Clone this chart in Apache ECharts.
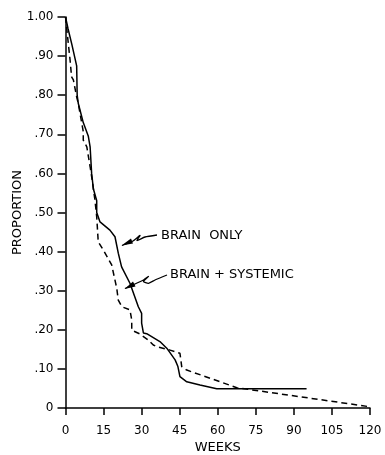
<!DOCTYPE html>
<html>
<head>
<meta charset="utf-8">
<script src="https://cdn.jsdelivr.net/npm/echarts@6/dist/echarts.min.js"></script>
<style>
html,body{margin:0;padding:0;background:#fff;}
#c{width:385px;height:455px;}
</style>
</head>
<body>
<div id="c"></div>
<script>
// Data (weeks, proportion)
const brainOnlyWeeks = [0, 1, 2.5, 4.4, 4.6, 5, 7, 9, 9.7, 10.3, 11, 12.3, 12.3, 13.6, 17.5, 19.5, 20.8, 22.1, 25.4, 28.7, 30, 30, 30.7, 32, 37.2, 39.9, 43.2, 44.3, 45.1, 47.8, 53, 59.6, 95];
const brainOnlyProp  = [1.0, 0.97, 0.93, 0.875, 0.80, 0.78, 0.73, 0.695, 0.668, 0.60, 0.56, 0.53, 0.50, 0.476, 0.455, 0.438, 0.396, 0.361, 0.319, 0.259, 0.242, 0.217, 0.192, 0.19, 0.17, 0.153, 0.123, 0.106, 0.08, 0.067, 0.059, 0.049, 0.049];

const brainSysWeeks = [0, 1.1, 1.8, 2.4, 3.1, 4.4, 5.0, 7.0, 7.0, 8.4, 9.7, 10.3, 11.6, 12.3, 12.9, 14.9, 18.2, 19.5, 20.2, 20.8, 22.2, 25.4, 26.1, 26.1, 29.4, 32.6, 34.6, 36, 41.2, 45.1, 45.8, 47.8, 67.5, 119];
const brainSysProp  = [1.0, 0.933, 0.89, 0.847, 0.839, 0.796, 0.78, 0.707, 0.685, 0.668, 0.617, 0.592, 0.532, 0.489, 0.425, 0.404, 0.366, 0.327, 0.306, 0.276, 0.259, 0.251, 0.225, 0.199, 0.189, 0.174, 0.161, 0.157, 0.148, 0.14, 0.106, 0.097, 0.052, 0.004];

const xTicks = [0, 15, 30, 45, 60, 75, 90, 105, 120];
const yTickLabels = ['0', '.10', '.20', '.30', '.40', '.50', '.60', '.70', '.80', '.90', '1.00'];

const zip = (a, b) => a.map((v, i) => [v, b[i]]);
const FONT = 'DejaVu Sans';

const chart = echarts.init(document.getElementById('c'), null, {renderer: 'canvas'});
chart.setOption({
  animation: false,
  backgroundColor: '#fff',
  grid: {left: 65.5, right: 15, top: 17, bottom: 47, containLabel: false, outerBoundsMode: 'none'},
  xAxis: {
    type: 'value', min: 0, max: 120, interval: 15,
    name: 'WEEKS', nameLocation: 'middle', nameGap: 33, nameMoveOverlap: false,
    nameTextStyle: {color: '#000', fontFamily: FONT, fontSize: 13},
    axisLine: {show: true, lineStyle: {color: '#000', width: 1.5}},
    axisTick: {show: true, length: 7, lineStyle: {color: '#000', width: 1.5}},
    axisLabel: {color: '#000', fontFamily: FONT, fontSize: 12, margin: 17,
      formatter: v => xTicks.includes(v) ? String(v) : ''},
    splitLine: {show: false}
  },
  yAxis: {
    type: 'value', min: 0, max: 1, interval: 0.1,
    name: 'PROPORTION', nameLocation: 'middle', nameGap: 41, nameRotate: 90, nameMoveOverlap: false,
    nameTextStyle: {color: '#000', fontFamily: FONT, fontSize: 13},
    axisLine: {show: true, lineStyle: {color: '#000', width: 1.5}},
    axisTick: {show: true, length: 8, lineStyle: {color: '#000', width: 1.5}},
    axisLabel: {color: '#000', fontFamily: FONT, fontSize: 12, margin: 12,
      formatter: v => yTickLabels[Math.round(v * 10)]},
    splitLine: {show: false}
  },
  series: [
    {name: 'BRAIN ONLY', type: 'line', data: zip(brainOnlyWeeks, brainOnlyProp),
     showSymbol: false, lineStyle: {color: '#000', width: 1.5}},
    {name: 'BRAIN + SYSTEMIC', type: 'line', data: zip(brainSysWeeks, brainSysProp),
     showSymbol: false, lineStyle: {color: '#000', width: 1.5, type: [6, 4]}}
  ],
  graphic: [
    {type: 'text', left: 161, top: 229, style: {text: 'BRAIN  ONLY', fill: '#000', font: '13px "DejaVu Sans"'}},
    {type: 'text', left: 170, top: 268, style: {text: 'BRAIN + SYSTEMIC', fill: '#000', font: '13px "DejaVu Sans"'}},
    {type: 'polyline', shape: {points: [[122, 245.5], [133, 241], [140, 235.5], [137, 240.5], [145, 237], [157, 235]], smooth: 0.2},
     style: {stroke: '#000', lineWidth: 1.3, fill: null}},
    {type: 'polygon', shape: {points: [[121.5, 245.5], [131, 238.5], [133, 243.5]]}, style: {fill: '#000'}},
    {type: 'polyline', shape: {points: [[125, 288.5], [143.5, 280], [148.5, 276.5], [143.5, 281.5], [148.5, 283.3], [155, 280], [167, 275]], smooth: 0.2},
     style: {stroke: '#000', lineWidth: 1.3, fill: null}},
    {type: 'polygon', shape: {points: [[124.5, 289], [133, 281.5], [135.5, 286.5]]}, style: {fill: '#000'}}
  ]
});
</script>
</body>
</html>
